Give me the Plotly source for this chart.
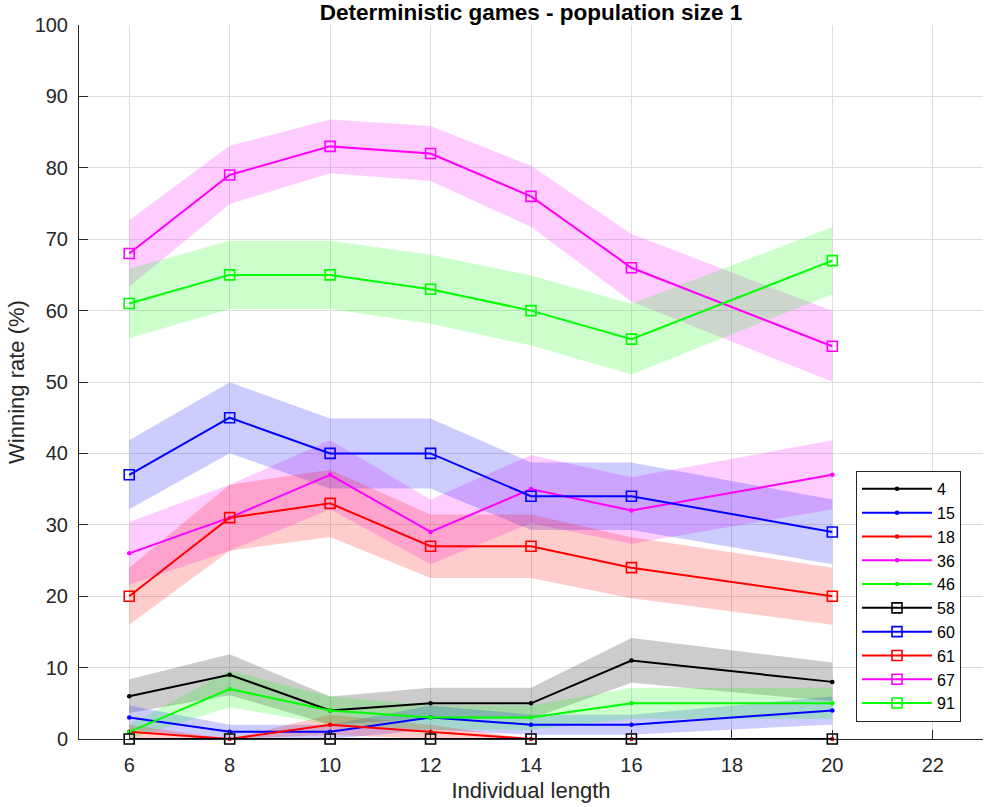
import plotly.graph_objects as go
import numpy as np

x_len = [6, 8, 10, 12, 14, 16, 20]
names = ["4", "15", "18", "36", "46", "58", "60", "61", "67", "91"]

s4 = [6, 9, 4, 5, 5, 11, 8]
s15 = [3, 1, 1, 3, 2, 2, 4]
s18 = [1, 0, 2, 1, 0, 0, 0]
s36 = [26, 31, 37, 29, 35, 32, 37]
s46 = [1, 7, 4, 3, 3, 5, 5]
s58 = [0, 0, 0, 0, 0, 0, 0]
s60 = [37, 45, 40, 40, 34, 34, 29]
s61 = [20, 31, 33, 27, 27, 24, 20]
s67 = [68, 79, 83, 82, 76, 66, 55]
s91 = [61, 65, 65, 63, 60, 56, 67]
n_games = 100

series = [s4, s15, s18, s36, s46, s58, s60, s61, s67, s91]
colors = ["#000000", "#0000ff", "#ff0000", "#ff00ff", "#00ff00",
          "#000000", "#0000ff", "#ff0000", "#ff00ff", "#00ff00"]
fills = ["rgba(0,0,0,0.2)", "rgba(0,0,255,0.2)", "rgba(255,0,0,0.2)",
         "rgba(255,0,255,0.2)", "rgba(0,255,0,0.2)",
         "rgba(0,0,0,0.2)", "rgba(0,0,255,0.2)", "rgba(255,0,0,0.2)",
         "rgba(255,0,255,0.2)", "rgba(0,255,0,0.2)"]
square = [False] * 5 + [True] * 5

fig = go.Figure()

# confidence bands (standard error of winning rate)
for vals, fc in zip(series, fills):
    p = np.array(vals) / 100.0
    se = np.sqrt(p * (1 - p) / n_games) * 100
    up = np.array(vals) + se
    lo = np.array(vals) - se
    fig.add_trace(go.Scatter(
        x=list(x_len) + list(x_len[::-1]),
        y=list(up) + list(lo[::-1]),
        fill="toself", fillcolor=fc, line=dict(width=0),
        mode="lines", hoverinfo="skip", showlegend=False))

for name, vals, c, sq in zip(names, series, colors, square):
    if sq:
        marker = dict(symbol="square-open", size=10, color=c, line=dict(width=1.6, color=c))
    else:
        marker = dict(symbol="circle", size=4.5, color=c)
    fig.add_trace(go.Scatter(
        x=x_len, y=vals, name=name, mode="lines+markers", cliponaxis=False,
        line=dict(color=c, width=2), marker=marker))

font_fam = "Liberation Sans, Arial, sans-serif"
axis_col = "#262626"
grid_col = "#dedede"

fig.update_layout(
    width=986, height=807,
    margin=dict(l=79, r=3, t=25, b=68),
    paper_bgcolor="white", plot_bgcolor="white",
    font=dict(family=font_fam, color=axis_col, size=17),
    title=dict(text="<b>Deterministic games - population size 1</b>",
               x=(79 + 983) / 2 / 986, xanchor="center",
               y=1 - 12 / 807, yanchor="middle",
               font=dict(size=22.5, color="#000000")),
    showlegend=True,
    legend=dict(x=0.8595, y=0.3754, xanchor="left", yanchor="top",
                bgcolor="white", bordercolor=axis_col, borderwidth=1,
                font=dict(size=16, color="#000000"),
                tracegroupgap=0, itemwidth=70),
)
fig.update_xaxes(
    range=[5, 23], tickmode="array", tickvals=[6, 8, 10, 12, 14, 16, 18, 20, 22],
    showgrid=True, gridcolor=grid_col, gridwidth=1,
    showline=True, linecolor=axis_col, linewidth=1,
    ticks="inside", ticklen=9, tickcolor=axis_col,
    zeroline=False, mirror=False, ticklabelstandoff=8,
    title=dict(text="Individual length", font=dict(size=22), standoff=7),
    tickfont=dict(size=20),
)
fig.update_yaxes(
    range=[0, 100], tickmode="array", tickvals=list(range(0, 101, 10)),
    showgrid=True, gridcolor=grid_col, gridwidth=1,
    showline=True, linecolor=axis_col, linewidth=1,
    ticks="inside", ticklen=9, tickcolor=axis_col,
    zeroline=False, mirror=False, ticklabelstandoff=6,
    title=dict(text="Winning rate (%)", font=dict(size=22), standoff=3),
    tickfont=dict(size=20),
)

fig.write_html("out.html")
